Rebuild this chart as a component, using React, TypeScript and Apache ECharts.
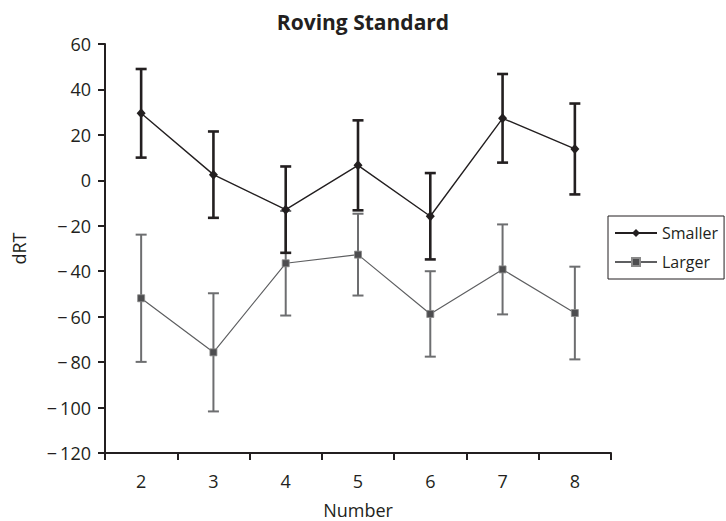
import React, { useEffect, useRef } from "react";
import * as echarts from "echarts";

const categories = ["2", "3", "4", "5", "6", "7", "8"];
const smallerMean = [29.5, 2.5, -12.9, 6.6, -15.8, 27.3, 13.8];
const smallerErr = [19.5, 19.0, 19.0, 19.8, 19.0, 19.5, 20.0];
const largerMean = [-51.9, -75.7, -36.5, -32.7, -58.8, -39.2, -58.4];
const largerErr = [28.0, 26.0, 23.0, 18.0, 18.8, 19.8, 20.4];
const yTicks = { min: -120, max: 60, interval: 20 };

const FONT = "'Open Sans', 'Noto Sans', sans-serif";
const INK = "#231f20";
const GRAY = "#5e5f61";

function errData(mean: number[], err: number[]) {
  return mean.map((m, i) => [i, m - err[i], m + err[i]]);
}

function errSeries(name: string, data: number[][], color: string, width: number) {
  return {
    type: "custom",
    name,
    data,
    z: 2,
    renderItem: (_params: any, api: any) => {
      const x = api.value(0);
      const lo = api.coord([x, api.value(1)]);
      const hi = api.coord([x, api.value(2)]);
      const half = 5.5;
      const style = { stroke: color, lineWidth: width, fill: "none" };
      return {
        type: "group",
        children: [
          { type: "line", shape: { x1: lo[0], y1: lo[1], x2: hi[0], y2: hi[1] }, style },
          { type: "line", shape: { x1: lo[0] - half, y1: lo[1], x2: lo[0] + half, y2: lo[1] }, style },
          { type: "line", shape: { x1: hi[0] - half, y1: hi[1], x2: hi[0] + half, y2: hi[1] }, style },
        ],
      };
    },
  };
}

export default function App() {
  const ref = useRef<HTMLDivElement>(null);
  useEffect(() => {
    if (!ref.current) return;
    const chart = echarts.init(ref.current, undefined, { renderer: "svg" });
    chart.setOption({
      animation: false,
      backgroundColor: "#ffffff",
      title: {
        text: "Roving Standard",
        left: 358,
        textAlign: "center",
        top: 6,
        textStyle: { fontFamily: FONT, fontWeight: "bold", fontSize: 21, color: INK },
      },
      grid: { left: 105, right: 115, top: 44, bottom: 68, outerBoundsMode: "none", containLabel: false },
      legend: {
        data: ["Smaller", "Larger"],
        orient: "vertical",
        left: 608,
        top: 216,
        backgroundColor: "#ffffff",
        borderColor: INK,
        borderWidth: 1,
        borderRadius: 0,
        padding: [9, 6, 9, 6],
        itemGap: 13,
        itemWidth: 42,
        itemHeight: 10,
        textStyle: { fontFamily: FONT, fontSize: 16, color: INK },
      },
      xAxis: {
        type: "category",
        data: categories,
        name: "Number",
        nameLocation: "middle",
        nameGap: 48,
        nameTextStyle: { fontFamily: FONT, fontSize: 18, color: INK },
        axisLine: { onZero: false, lineStyle: { color: INK, width: 2 } },
        axisTick: { show: true, length: 7, lineStyle: { color: INK, width: 2 } },
        axisLabel: { fontFamily: FONT, fontSize: 18, color: INK, margin: 19 },
        splitLine: { show: false },
      },
      yAxis: {
        type: "value",
        min: yTicks.min,
        max: yTicks.max,
        interval: yTicks.interval,
        name: "dRT",
        nameLocation: "middle",
        nameGap: 77,
        nameTextStyle: { fontFamily: FONT, fontSize: 18, color: INK },
        axisLine: { show: true, lineStyle: { color: INK, width: 2 } },
        axisTick: { show: true, length: 7, lineStyle: { color: INK, width: 2 } },
        axisLabel: {
          fontFamily: FONT,
          fontSize: 18,
          color: INK,
          margin: 14,
          formatter: (v: number) => (v < 0 ? "\u2212\u2009" + Math.abs(v) : String(v)),
        },
        splitLine: { show: false },
      },
      series: [
        errSeries("Larger error", errData(largerMean, largerErr), "#6d6e70", 2),
        errSeries("Smaller error", errData(smallerMean, smallerErr), INK, 2.6),
        {
          type: "line",
          name: "Larger",
          data: largerMean,
          z: 3,
          symbol: "rect",
          symbolSize: 7,
          lineStyle: { color: GRAY, width: 1.2 },
          itemStyle: { color: "#4d4d4f", borderColor: "#8a8a8a", borderWidth: 0.8 },
        },
        {
          type: "line",
          name: "Smaller",
          data: smallerMean,
          z: 4,
          symbol: "diamond",
          symbolSize: [9, 10],
          lineStyle: { color: INK, width: 1.4 },
          itemStyle: { color: INK },
        },
      ],
    });
    return () => chart.dispose();
  }, []);
  return <div ref={ref} style={{ width: 726, height: 521, position: "absolute", left: 0, top: 0 }} />;
}
